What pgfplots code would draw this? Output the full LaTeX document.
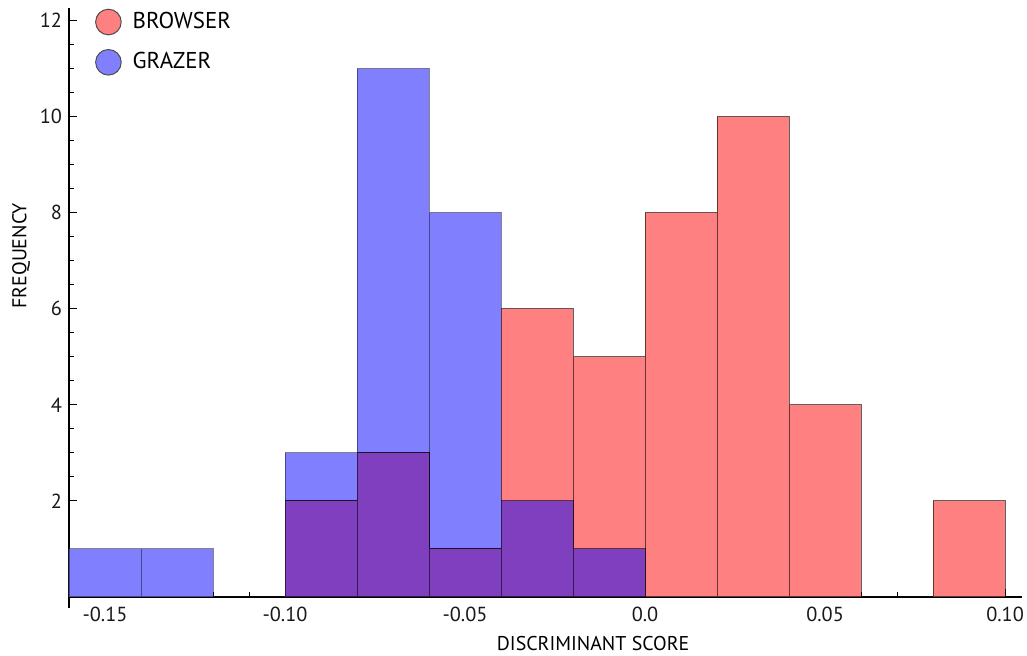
\documentclass[border=0pt]{standalone}
\usepackage{pgfplots}
\pgfplotsset{compat=1.18}
\usepackage{pgfplotstable}
\usepackage{fontspec}
\setmainfont{PT Sans}
\usetikzlibrary{calc}

\definecolor{brred}{HTML}{FF8080}
\definecolor{grblue}{HTML}{8080FF}
\definecolor{ovpurp}{HTML}{803FBF}

% histogram bins (left edge, count); last row closes the final bin
\pgfplotstableread{
x y
-0.10 2
-0.08 3
-0.06 1
-0.04 6
-0.02 5
0.00 8
0.02 10
0.04 4
0.06 0
0.08 2
0.10 0
}\browser

\pgfplotstableread{
x y
-0.16 1
-0.14 1
-0.12 0
-0.10 3
-0.08 11
-0.06 8
-0.04 2
-0.02 1
0.00 0
}\grazer

% overlap of both groups
\pgfplotstableread{
x y
-0.10 2
-0.08 3
-0.06 1
-0.04 2
-0.02 1
0.00 0
}\overlap

\begin{document}
\begin{tikzpicture}
\begin{axis}[
    scale only axis,
    width=476.5bp, height=300bp,
    xmin=-0.16, xmax=0.1047,
    ymin=-0.23, ymax=12.26,
    axis x line=middle, axis y line=left,
    axis line style={-, line width=0.6bp, black},
    tick style={line width=0.5bp, black},
    tick align=inside,
    major tick length=4bp, minor tick length=2.5bp,
    xtick={-0.15,-0.10,-0.05,0,0.05,0.10},
    xticklabels={-0.15,-0.10,-0.05,0.0,0.05,0.10},
    minor x tick num=4,
    ytick={2,4,6,8,10,12},
    minor y tick num=3,
    /pgf/number format/assume math mode=true,
    tick label style={font=\fontsize{10.2}{12}\selectfont, black!90},
    xticklabel style={yshift=-1.5bp},
    label style={font=\fontsize{11}{13}\selectfont, black!90},
    xlabel={DISCRIMINANT SCORE},
    ylabel={FREQUENCY},
    every axis x label/.style={at={(ticklabel cs:0.55)}, anchor=north, yshift=-0.5bp},
    every axis y label/.style={at={(ticklabel cs:0.587)}, anchor=south, rotate=90, yshift=-2bp},
    legend style={at={(rel axis cs:0.027,1.0)}, anchor=north west, draw=none, fill=none,
        font=\fontsize{11.5}{13}\selectfont, row sep=6.5bp, inner sep=0pt,
        /tikz/every odd column/.append style={column sep=3.5bp}},
    legend cell align=left,
    clip=false,
]
\addlegendimage{legend image code/.code={\draw[draw=black!70, line width=0.5bp, fill=brred] (0.3cm,0bp) circle (6.4bp);}}
\addlegendentry{BROWSER}
\addlegendimage{legend image code/.code={\draw[draw=black!70, line width=0.5bp, fill=grblue] (0.3cm,0bp) circle (6.4bp);}}
\addlegendentry{GRAZER}

\addplot[ybar interval, fill=grblue, draw=black, draw opacity=0.45, line width=0.5bp, forget plot] table {\grazer};
\addplot[ybar interval, fill=brred, draw=black, draw opacity=0.6, line width=0.5bp, forget plot] table {\browser};
\addplot[ybar interval, fill=ovpurp, draw=black, draw opacity=0.6, line width=0.5bp, forget plot] table {\overlap};
\end{axis}
\pgfresetboundingbox
\path ($(current axis.south west)+(-34.5bp,-24bp)$) rectangle ($(current axis.north east)+(2.5bp,4bp)$);
\end{tikzpicture}
\end{document}
